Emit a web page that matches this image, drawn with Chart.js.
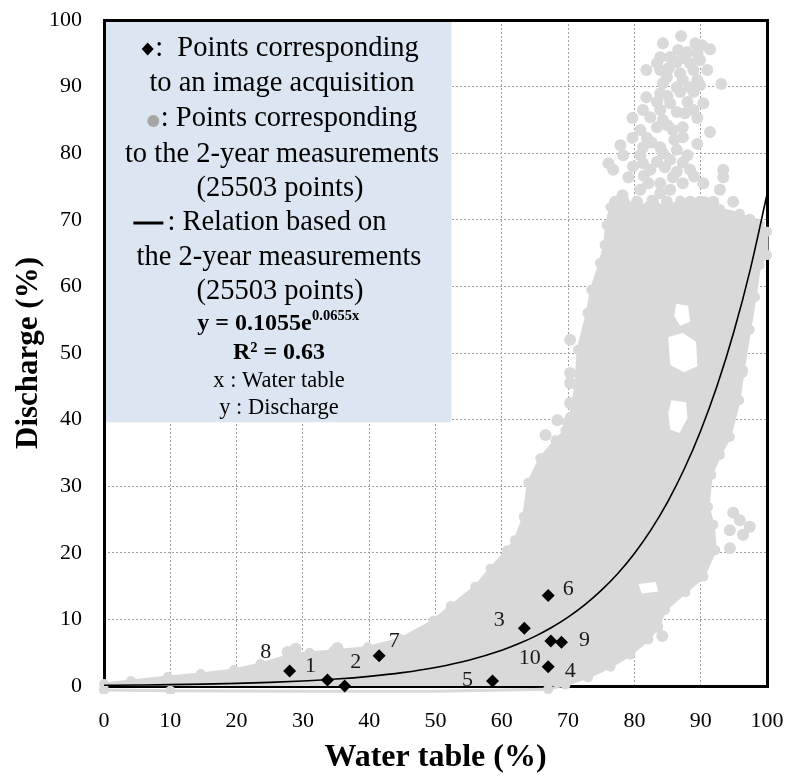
<!DOCTYPE html>
<html><head><meta charset="utf-8">
<script src="https://cdn.jsdelivr.net/npm/chart.js@4.4.0/dist/chart.umd.min.js"></script>
<style>html,body{margin:0;padding:0;background:#fff;}#wrap{width:787px;height:777px;}</style>
</head><body><div id="wrap"><canvas id="c" width="787" height="777"></canvas></div>
<script>
// ---------- DATA ----------
const xTicks = [0,10,20,30,40,50,60,70,80,90,100];
const yTicks = [0,10,20,30,40,50,60,70,80,90,100];

// black diamonds: image acquisitions
const imgLabels = ['8','1','2','7','5','3','6','10','9','4'];
const imgX = [28.0, 33.7, 36.3, 41.5, 58.6, 63.4, 67.0, 67.4, 69.0, 67.0];
const imgY = [2.25, 0.9, 0.0, 4.55, 0.75, 8.66, 13.6, 6.76, 6.56, 2.9];

// regression curve
const trendX = [0,5,10,15,20,25,30,35,40,45,50,55,60,62.5,65,67.5,70,72.5,75,77.5,80,82.5,85,87.5,90,92.5,95,97.5,100];
const trendY = [0.11,0.15,0.20,0.28,0.39,0.54,0.75,1.04,1.45,2.01,2.79,3.87,5.37,6.33,7.45,8.78,10.34,12.18,14.35,16.90,19.91,23.45,27.62,32.54,38.33,45.14,53.18,62.64,73.8];

// outline of the dense part of the 2-year measurement cloud
const cloudOutline = [[0,-0.6],[0,0.3],[4.07,0.75],[9.64,1.35],[14.6,1.8],[19.6,2.4],[23.6,3.3],[27.7,4.5],[31,5.0],[34.6,5.25],[39.8,5.8],[44.7,7.05],[49.7,9.8],[52.3,12.0],[56.0,14.9],[58.3,17.6],[60.8,20.4],[62.0,21.9],[63.3,25.4],[64.0,30.5],[65.8,34.2],[68.1,36.9],[69.6,38.4],[70.3,40.4],[71.2,45.2],[71.5,50.5],[72.9,56.0],[73.5,59.5],[74.8,63.5],[75.5,66.2],[75.8,69.2],[76.4,71.9],[78.5,72.9],[80.9,71.8],[82.6,73.0],[84.6,71.7],[86.9,72.9],[88.6,71.6],[90.6,72.8],[92.9,71.6],[95.9,70.9],[98.9,69.4],[100,68.2],[100,64.7],[98.9,63.2],[98.2,58.4],[97.4,53.5],[96.4,47.4],[95.8,42.9],[94.4,37.4],[92.9,34.7],[91.6,31.7],[91.1,26.9],[91.9,24.2],[92.2,20.4],[90.4,16.4],[87.7,14.1],[84.6,11.4],[83.6,8.9],[82.1,7.0],[79.4,4.7],[76.4,2.9],[73.0,1.3],[69.6,0.2],[67.0,-0.5],[50,-0.8],[30,-0.8],[10,-0.7],[0,-0.6]];

// empty patches inside the cloud
const hole1 = [[86.3,57.4],[88.1,57.1],[88.4,54.7],[86.9,54.1],[86.0,55.6],[86.3,57.4]];
const hole2 = [[85.1,52.4],[87.3,53.0],[89.3,51.7],[89.5,48.0],[87.5,47.1],[85.4,48.2],[85.1,52.4]];
const hole3 = [[85.6,42.9],[87.8,42.6],[88.0,40.2],[86.8,38.0],[85.4,38.5],[85.1,41.0],[85.6,42.9]];
const hole4 = [[80.6,15.3],[83.2,15.6],[83.6,14.2],[81.1,13.9],[80.6,15.3]];

// sparse measurement points (upper tower and outliers)
const sparsePoints = [[87.05,97.6],[84.3,96.5],[89.2,96.5],[90.2,96.2],[91.4,95.6],[86.6,95.5],[88.0,95.2],[83.9,94.4],[85.4,94.4],[89.5,95.0],[86.4,93.7],[88.4,93.5],[89.9,94.0],[83.4,93.5],[83.9,92.5],[81.8,92.5],[91.0,92.5],[86.9,92.0],[88.9,92.5],[84.9,91.4],[87.3,91.0],[89.5,91.0],[84.3,90.5],[86.4,89.9],[88.4,89.9],[89.9,90.2],[93.1,90.4],[83.9,89.0],[86.9,89.2],[88.9,89.2],[81.8,88.4],[83.4,87.7],[85.4,87.5],[88.0,87.7],[90.4,87.5],[81.3,86.5],[83.9,86.5],[86.4,86.2],[88.9,86.5],[79.7,85.3],[82.4,85.4],[84.3,85.0],[89.5,85.3],[80.9,83.5],[83.4,83.9],[85.8,83.5],[87.3,83.9],[91.4,83.2],[79.7,82.3],[81.9,82.3],[87.3,82.4],[77.9,81.2],[81.3,80.9],[83.9,80.9],[89.5,81.4],[78.3,79.7],[80.9,79.7],[84.3,80.0],[86.4,80.5],[88.0,79.7],[76.1,78.5],[76.8,77.5],[81.3,78.5],[83.4,78.7],[85.4,79.0],[79.1,76.4],[82.4,77.5],[86.4,77.2],[88.4,77.5],[93.4,77.5],[93.4,76.4],[83.9,75.5],[85.8,76.4],[87.3,75.5],[90.4,75.5],[82.1,75.5],[80.9,74.5],[78.2,73.7],[83.9,74.0],[85.4,74.5],[92.9,74.5],[77.1,72.7],[80.4,72.7],[82.8,72.7],[84.9,72.7],[88.4,72.7],[89.9,72.7],[91.9,72.7],[94.9,72.7],[97.4,70.0],
 [85.2,92.8],[87.6,94.3],[85.0,88.6],[87.6,86.0],[85.0,84.2],[82.6,81.6],[86.0,82.0],[84.6,77.9],[87.3,78.6],[89.0,76.5],[81.4,76.6],[79.8,78.0],
 [66.6,37.7],[68.4,39.9],[70.0,39.6],[70.3,47.0],[70.3,45.5],[70.3,52.0],[70.3,42.5],
 [27.7,5.1],[28.9,5.6],[35.2,5.7],
 [94.9,26.0],[95.9,24.9],[97.4,23.9],[94.4,23.4],[96.4,22.7],[94.4,20.7],[96.2,47.1],[83.4,8.9],[84.2,7.5]];

// legend box extent (data units)
const legendRight = 52.4, legendBottom = 39.6;

// ---------- LAYOUT / STYLE ----------
const GRAY = 'rgb(217,217,217)';
const SERIF = '"Liberation Serif", "Times New Roman", serif';
const labelOffsets = [[-24,-19],[-17,-14],[11,-24],[15,-14],[-25,-1],[-25,-8],[20,-6],[-21,17],[23,-2],[22,5]];
const legendLines = [
  {y:49, cx:280, sym:'diamond', text:':  Points corresponding', font:'28.5px '+SERIF},
  {y:84, cx:282, text:'to an image acquisition', font:'28.5px '+SERIF},
  {y:119, cx:282, sym:'dot', text:': Points corresponding', font:'28.5px '+SERIF},
  {y:155, cx:282, text:'to the 2-year measurements', font:'28.5px '+SERIF},
  {y:189, cx:280, text:'(25503 points)', font:'28.5px '+SERIF},
  {y:223, cx:260, sym:'dash', text:': Relation based on', font:'28.5px '+SERIF},
  {y:258, cx:279, text:'the 2-year measurements', font:'28.5px '+SERIF},
  {y:292, cx:280, text:'(25503 points)', font:'28.5px '+SERIF},
  {y:324, cx:278, eq:true},
  {y:353, cx:279, text:'R² = 0.63', font:'bold 24px '+SERIF},
  {y:381, cx:279, text:'x : Water table', font:'22.5px '+SERIF},
  {y:408, cx:279, text:'y : Discharge', font:'22.5px '+SERIF}
];

const pts = arr => arr.map(p => ({x:p[0], y:p[1]}));
const imgPts = imgX.map((x,i) => ({x, y: imgY[i]}));
const trendPts = trendX.map((x,i) => ({x, y: trendY[i]}));
const holeSet = (data) => ({data: pts(data), showLine: true, fill: 'shape', backgroundColor: '#fff', borderColor: '#fff', borderWidth: 0, pointRadius: 0});

const overlay = {
  id: 'overlay',
  beforeDatasetsDraw(chart) {
    const {ctx, chartArea: ca, scales: {x, y}} = chart;
    ctx.save();
    ctx.fillStyle = '#dce6f2';
    const bx = x.getPixelForValue(legendRight), by = y.getPixelForValue(legendBottom);
    ctx.fillRect(ca.left + 2, ca.top + 2, bx - ca.left - 2, by - ca.top - 2);
    ctx.strokeStyle = '#000'; ctx.lineWidth = 3;
    ctx.strokeRect(ca.left + 0.5, ca.top + 0.5, ca.right - ca.left, ca.bottom - ca.top);
    ctx.textBaseline = 'middle'; ctx.textAlign = 'left';
    legendLines.forEach(L => {
      if (L.eq) {
        const f1 = 'bold 24px ' + SERIF, f2 = 'bold 14.5px ' + SERIF;
        const t1 = 'y = 0.1055e', t2 = '0.0655x';
        ctx.font = f1; const w1 = ctx.measureText(t1).width;
        ctx.font = f2; const w2 = ctx.measureText(t2).width;
        const x0 = L.cx - (w1 + w2) / 2;
        ctx.fillStyle = '#000';
        ctx.font = f1; ctx.fillText(t1, x0, L.y);
        ctx.font = f2; ctx.fillText(t2, x0 + w1 + 0.5, L.y - 8);
        return;
      }
      ctx.font = L.font;
      const tw = ctx.measureText(L.text).width;
      const sw = L.sym === 'diamond' ? 14 : L.sym === 'dot' ? 14 : L.sym === 'dash' ? 34 : 0;
      const x0 = L.cx - (tw + sw) / 2;
      if (L.sym === 'diamond') {
        const cx = x0 + 6.5, cy = L.y;
        ctx.fillStyle = '#000'; ctx.beginPath();
        ctx.moveTo(cx, cy - 6.5); ctx.lineTo(cx + 6, cy); ctx.lineTo(cx, cy + 6.5); ctx.lineTo(cx - 6, cy);
        ctx.closePath(); ctx.fill();
      } else if (L.sym === 'dot') {
        ctx.fillStyle = '#a6a6a6'; ctx.beginPath(); ctx.arc(x0 + 6.5, L.y + 2, 6, 0, Math.PI * 2); ctx.fill();
      } else if (L.sym === 'dash') {
        ctx.fillStyle = '#000'; ctx.fillRect(x0, L.y - 1.5, 30, 3);
      }
      ctx.fillStyle = '#000';
      ctx.fillText(L.text, x0 + sw, L.y);
    });
    ctx.restore();
  },
  afterDatasetsDraw(chart) {
    const {ctx} = chart;
    const meta = chart.getDatasetMeta(0);
    ctx.save();
    ctx.font = '22px ' + SERIF; ctx.fillStyle = '#1a1a1a';
    ctx.textAlign = 'center'; ctx.textBaseline = 'middle';
    meta.data.forEach((el, i) => {
      ctx.fillText(imgLabels[i], el.x + labelOffsets[i][0], el.y + labelOffsets[i][1]);
    });
    ctx.restore();
  }
};

new Chart(document.getElementById('c'), {
  type: 'scatter',
  data: {
    datasets: [
      {data: imgPts, pointStyle: 'rectRot', pointRadius: 6.5, backgroundColor: '#000', borderWidth: 0, showLine: false, clip: 10},
      {data: trendPts, showLine: true, borderColor: '#000', borderWidth: 1.6, pointRadius: 0, cubicInterpolationMode: 'monotone', fill: false, clip: 5},
      holeSet(hole1), holeSet(hole2), holeSet(hole3), holeSet(hole4),
      {data: pts(sparsePoints), pointRadius: 6, backgroundColor: GRAY, borderWidth: 0, showLine: false, clip: 8},
      {data: pts(cloudOutline), showLine: true, fill: 'shape', backgroundColor: GRAY, borderColor: GRAY, borderWidth: 3, borderJoinStyle: 'round', pointRadius: 5, pointBackgroundColor: GRAY, pointBorderWidth: 0, clip: 8}
    ]
  },
  options: {
    responsive: false, animation: false, events: [],
    layout: {padding: {top: 20, right: 20, left: 0, bottom: 0}},
    plugins: {legend: {display: false}, tooltip: {enabled: false}},
    scales: {
      x: {
        type: 'linear', min: 0, max: 100,
        afterBuildTicks: s => { s.ticks = xTicks.map(v => ({value: v})); },
        afterFit: s => { s.height = 91; s.paddingLeft = 0; s.paddingRight = 0; },
        ticks: {font: {family: SERIF, size: 22}, color: '#000', padding: 22, maxRotation: 0, autoSkip: false},
        grid: {color: '#a0a0a0', lineWidth: 1, drawTicks: false},
        border: {display: false, dash: [2, 2]},
        title: {display: true, text: 'Water table (%)', font: {family: SERIF, size: 32, weight: 'bold'}, color: '#000', padding: {top: 0, bottom: 0}}
      },
      y: {
        type: 'linear', min: 0, max: 100,
        afterBuildTicks: s => { s.ticks = yTicks.map(v => ({value: v})); },
        afterFit: s => { s.width = 104; s.paddingTop = 0; s.paddingBottom = 0; },
        ticks: {font: {family: SERIF, size: 22}, color: '#000', padding: 22},
        grid: {color: '#a0a0a0', lineWidth: 1, drawTicks: false},
        border: {display: false, dash: [2, 2]},
        title: {display: true, text: 'Discharge (%)', font: {family: SERIF, size: 31, weight: 'bold'}, color: '#000', padding: {top: 10, bottom: 0}}
      }
    }
  },
  plugins: [overlay]
});
</script>
</body></html>
